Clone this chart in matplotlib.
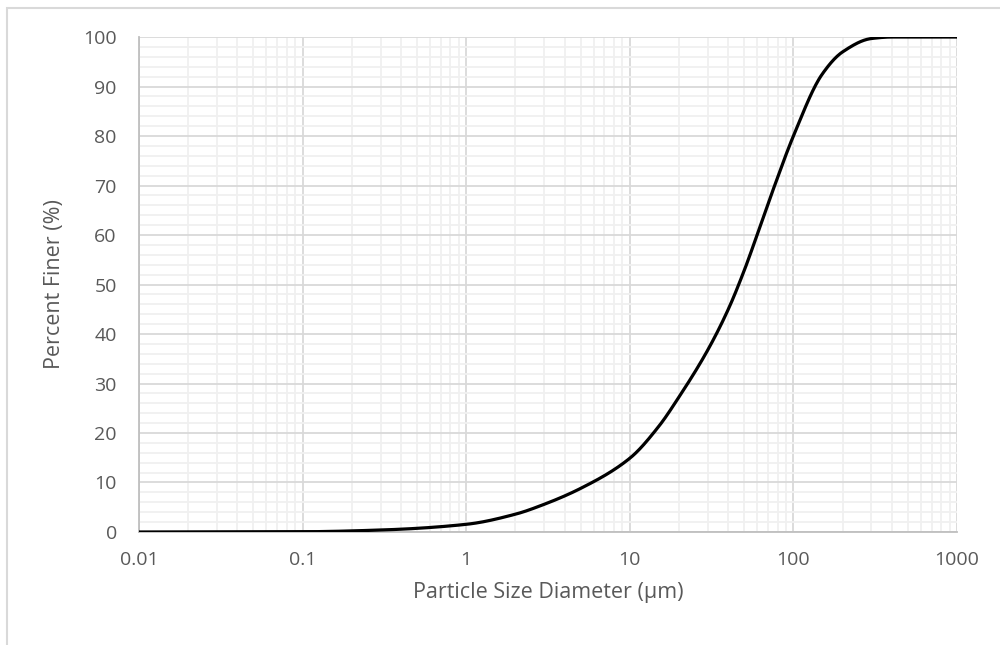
import numpy as np
import matplotlib.pyplot as plt
from matplotlib.patches import Rectangle
from matplotlib.ticker import FixedLocator, LogLocator, NullFormatter

plt.rcParams['font.family'] = ['Open Sans', 'DejaVu Sans']

# particle size distribution (cumulative % finer)
size_um = [0.01, 0.1, 0.3, 1, 2, 3, 5, 10, 15, 20, 30, 40, 50, 60, 77,
           100, 150, 200, 300, 400, 1000]
pct_finer = [0, 0.05, 0.4, 1.55, 3.6, 5.6, 8.8, 14.9, 21.3, 27.3, 36.8, 45, 52.8, 60, 70.1,
             80, 92.5, 97, 99.7, 100, 100]

x_ticks = [0.01, 0.1, 1, 10, 100, 1000]
x_tick_labels = ["0.01", "0.1", "1", "10", "100", "1000"]
y_ticks = list(range(0, 101, 10))

text_color = "#595959"


def pchip(x, y, xn):
    # monotone cubic through the points, keeps the curve from overshooting
    x = np.asarray(x, float)
    y = np.asarray(y, float)
    h = np.diff(x)
    d = np.diff(y) / h
    m = np.zeros_like(y)
    for i in range(1, len(x) - 1):
        if d[i - 1] * d[i] > 0:
            w1 = 2 * h[i] + h[i - 1]
            w2 = h[i] + 2 * h[i - 1]
            m[i] = (w1 + w2) / (w1 / d[i - 1] + w2 / d[i])
    m[0], m[-1] = d[0], d[-1]
    idx = np.clip(np.searchsorted(x, xn) - 1, 0, len(h) - 1)
    t = (xn - x[idx]) / h[idx]
    h00 = 2 * t**3 - 3 * t**2 + 1
    h10 = t**3 - 2 * t**2 + t
    h01 = -2 * t**3 + 3 * t**2
    h11 = t**3 - t**2
    return h00 * y[idx] + h10 * h[idx] * m[idx] + h01 * y[idx + 1] + h11 * h[idx] * m[idx + 1]


logx = np.log10(size_um)
fine = np.linspace(logx[0], logx[-1], 800)
smooth = pchip(logx, pct_finer, fine)

fig = plt.figure(figsize=(10, 6.45), dpi=100)
ax = fig.add_axes([0.139, 0.1752, 0.818, 0.7674])

ax.plot(10**fine, smooth, color="black", lw=2.3, solid_capstyle="round", zorder=5)

ax.set_xscale("log")
ax.set_xlim(0.01, 1000)
ax.set_ylim(0, 100)
ax.set_xticks(x_ticks)
ax.set_xticklabels(x_tick_labels)
ax.xaxis.set_minor_locator(LogLocator(base=10, subs=np.arange(2, 10)))
ax.xaxis.set_minor_formatter(NullFormatter())
ax.set_yticks(y_ticks)
ax.yaxis.set_minor_locator(FixedLocator(np.arange(0, 101, 2)))

ax.grid(which="major", color="#d9d9d9", lw=1.3)
ax.grid(which="minor", color="#f0f0f0", lw=1.3)
ax.set_axisbelow(True)

ax.tick_params(which="both", length=0, colors=text_color, labelsize=14)
ax.tick_params(axis="x", pad=14)
ax.tick_params(axis="y", pad=16)
for side in ["top", "right"]:
    ax.spines[side].set_visible(False)
for side in ["left", "bottom"]:
    ax.spines[side].set_color("#bfbfbf")
    ax.spines[side].set_linewidth(1.3)

ax.set_xlabel("Particle Size Diameter (µm)", color=text_color, fontsize=15.5, labelpad=9)
ax.set_ylabel("Percent Finer (%)", color=text_color, fontsize=15.5, labelpad=13)

# chart frame
fig.patches.append(Rectangle((0.007, -0.5), 1.5, 1.5 - 8 / 645, transform=fig.transFigure,
                             fill=False, edgecolor="#d9d9d9", lw=1.5))

fig.savefig("out.png", dpi=100)
